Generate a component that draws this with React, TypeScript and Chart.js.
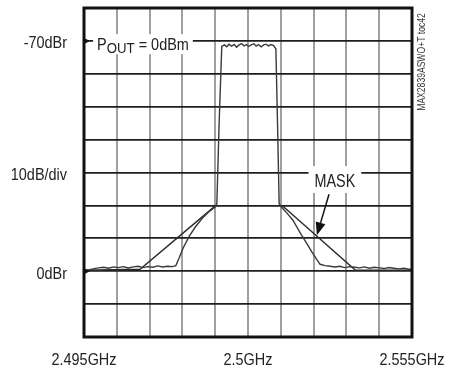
import React, { useEffect, useRef } from "react";
import { Chart, registerables } from "chart.js";

Chart.register(...registerables);

const FONT = '"Liberation Sans", Arial, sans-serif';

// x in divisions (0..10), y in dB relative (0 = 0dBr line)
const signalX = [
  0.0, 0.15, 0.3, 0.45, 0.6, 0.75, 0.9, 1.05, 1.2, 1.35, 1.5, 1.65, 1.8, 1.95, 2.1, 2.25, 2.4, 2.55, 2.7, 2.8,
  2.9, 3.02, 3.2, 3.4, 3.6, 3.8, 4.0, 4.05, 4.12, 4.2,
  4.28, 4.35, 4.42, 4.5, 4.58, 4.65, 4.72, 4.8, 4.88, 4.95, 5.02, 5.1, 5.18, 5.25, 5.32, 5.4, 5.48, 5.55, 5.62, 5.7, 5.78, 5.85,
  5.9, 5.95, 6.02, 6.2, 6.37, 6.6, 6.8, 6.95, 7.1, 7.2, 7.35, 7.5,
  7.65, 7.8, 7.95, 8.1, 8.25, 8.4, 8.55, 8.7, 8.85, 9.0, 9.15, 9.3, 9.45, 9.6, 9.75, 9.9, 10.0,
];
const signalY = [
  0.3, 0.4, 0.8, 1.0, 1.2, 0.9, 1.3, 1.1, 1.4, 1.0, 1.3, 1.5, 1.1, 1.4, 1.2, 1.6, 1.3, 1.5, 1.4, 1.7,
  4.0, 7.0, 10.5, 13.5, 16.0, 18.0, 19.5, 20.5, 45, 68.3,
  68.8, 68.2, 69.0, 68.4, 68.9, 68.1, 68.7, 69.2, 68.5, 68.9, 68.3, 68.8, 69.1, 68.4, 68.9, 68.2, 68.8, 69.0, 68.5, 68.9, 68.6, 67.6,
  45, 20.5, 19.5, 17.5, 15.5, 11.5, 8.3, 5.8, 3.5, 2.1, 1.7, 1.5,
  1.3, 1.5, 1.1, 1.4, 1.2, 1.0, 1.3, 0.9, 1.2, 1.0, 0.8, 1.1, 0.9, 0.7, 0.9, 0.6, 0.6,
];

const maskX = [0, 1.71, 4.02, 5.0, 6.04, 8.26, 10];
const maskY: (number | null)[] = [0.3, 0.6, 20, null, 20, 0.4, 0.3];

const xTickValues = [0, 5, 10];
const xTickLabels = ["2.495GHz", "2.5GHz", "2.555GHz"];
const yTickValues = [70, 30, 0];
const yTickLabels = ["-70dBr", "10dB/div", "0dBr"];

const markerLevels = [70, 0];
const poutPos = [0.4, 69];
const maskLabelPos = [7.65, 27.7];
const arrowTail = [7.47, 23.4];
const arrowTip = [7.1, 10.9];
const sideNote = "MAX2839ASWO+T toc42";

function drawText(
  ctx: CanvasRenderingContext2D,
  text: string,
  x: number,
  y: number,
  size: number,
  sx: number,
  align: "left" | "center" | "right"
) {
  ctx.save();
  ctx.font = `${size}px ${FONT}`;
  const w = ctx.measureText(text).width * sx;
  let left = x;
  if (align === "center") left = x - w / 2;
  if (align === "right") left = x - w;
  ctx.translate(left, y);
  ctx.scale(sx, 1);
  ctx.textAlign = "left";
  ctx.textBaseline = "alphabetic";
  ctx.fillText(text, 0, 0);
  ctx.restore();
  return w;
}

function textWidth(ctx: CanvasRenderingContext2D, text: string, size: number, sx: number) {
  ctx.save();
  ctx.font = `${size}px ${FONT}`;
  const w = ctx.measureText(text).width * sx;
  ctx.restore();
  return w;
}

const annotPlugin = {
  id: "annot",
  afterDatasetsDraw(chart: any) {
    const { ctx, chartArea: a, scales } = chart;
    const x = scales.x;
    const y = scales.y;
    ctx.save();

    // frame
    ctx.strokeStyle = "#111";
    ctx.lineWidth = 3;
    ctx.strokeRect(a.left, a.top, a.right - a.left, a.bottom - a.top);

    // reference markers
    ctx.fillStyle = "#111";
    for (const v of markerLevels) {
      const py = y.getPixelForValue(v);
      ctx.beginPath();
      ctx.moveTo(a.left, py - 3);
      ctx.lineTo(a.left + 6, py);
      ctx.lineTo(a.left, py + 3);
      ctx.closePath();
      ctx.fill();
    }

    ctx.fillStyle = "#222";
    // axis labels
    yTickValues.forEach((v, i) => {
      const py = y.getPixelForValue(v);
      drawText(ctx, yTickLabels[i], a.left - 17, py + 7.5, 17, 0.85, "right");
    });
    xTickValues.forEach((v, i) => {
      const px = x.getPixelForValue(v);
      drawText(ctx, xTickLabels[i], px, a.bottom + 28, 17, 0.85, "center");
    });

    // POUT label
    {
      const px = x.getPixelForValue(poutPos[0]);
      const py = y.getPixelForValue(poutPos[1]);
      const wP = textWidth(ctx, "P", 17, 0.85);
      const wSub = textWidth(ctx, "OUT", 15, 0.88);
      const wRest = textWidth(ctx, " = 0dBm", 17, 0.85);
      const total = wP + wSub + wRest;
      ctx.fillStyle = "#fff";
      ctx.fillRect(px - 4, py - 10, total + 8, 20);
      ctx.fillStyle = "#222";
      drawText(ctx, "P", px, py + 6, 17, 0.85, "left");
      drawText(ctx, "OUT", px + wP, py + 9, 15, 0.88, "left");
      drawText(ctx, " = 0dBm", px + wP + wSub, py + 6, 17, 0.85, "left");
    }

    // MASK label
    {
      const px = x.getPixelForValue(maskLabelPos[0]);
      const py = y.getPixelForValue(maskLabelPos[1]);
      const w = textWidth(ctx, "MASK", 18, 0.8);
      ctx.fillStyle = "#fff";
      ctx.fillRect(px - w / 2 - 6, py - 14, w + 12, 27);
      ctx.fillStyle = "#222";
      drawText(ctx, "MASK", px, py + 6.5, 18, 0.8, "center");
    }

    // arrow
    {
      const tx = x.getPixelForValue(arrowTail[0]);
      const ty = y.getPixelForValue(arrowTail[1]);
      const hx = x.getPixelForValue(arrowTip[0]);
      const hy = y.getPixelForValue(arrowTip[1]);
      const ang = Math.atan2(hy - ty, hx - tx);
      const len = 13;
      const hw = 5;
      const bx = hx - Math.cos(ang) * len;
      const by = hy - Math.sin(ang) * len;
      ctx.strokeStyle = "#111";
      ctx.lineWidth = 1.5;
      ctx.beginPath();
      ctx.moveTo(tx, ty);
      ctx.lineTo(bx, by);
      ctx.stroke();
      ctx.fillStyle = "#111";
      ctx.beginPath();
      ctx.moveTo(hx, hy);
      ctx.lineTo(bx + Math.sin(ang) * hw, by - Math.cos(ang) * hw);
      ctx.lineTo(bx - Math.sin(ang) * hw, by + Math.cos(ang) * hw);
      ctx.closePath();
      ctx.fill();
    }

    // rotated side note
    ctx.translate(a.right + 13, a.top + 54);
    ctx.rotate(-Math.PI / 2);
    ctx.fillStyle = "#333";
    drawText(ctx, sideNote, 0, 0, 11, 0.78, "center");

    ctx.restore();
  },
};

export default function App() {
  const ref = useRef<HTMLCanvasElement | null>(null);

  useEffect(() => {
    if (!ref.current) return;
    const chart = new Chart(ref.current, {
      type: "line",
      data: {
        datasets: [
          {
            label: "signal",
            data: signalX.map((v, i) => ({ x: v, y: signalY[i] })),
            borderColor: "#3a3a3a",
            borderWidth: 1.4,
            pointRadius: 0,
            tension: 0,
          },
          {
            label: "mask",
            data: maskX.map((v, i) => ({ x: v, y: maskY[i] })) as any,
            borderColor: "#2a2a2a",
            borderWidth: 1.4,
            pointRadius: 0,
            tension: 0,
            spanGaps: false,
          },
        ],
      },
      options: {
        animation: false,
        responsive: false,
        devicePixelRatio: 1,
        layout: { padding: { left: 0, right: 44, top: 8, bottom: 0 } },
        plugins: { legend: { display: false }, tooltip: { enabled: false } },
        scales: {
          x: {
            type: "linear",
            min: 0,
            max: 10,
            ticks: { stepSize: 1, display: false },
            grid: { color: "#a0a0a0", lineWidth: 2, drawTicks: false },
            border: { display: false },
            afterFit: (s: any) => {
              s.height = 33;
              s.paddingLeft = 0;
              s.paddingRight = 0;
            },
          },
          y: {
            type: "linear",
            min: -20,
            max: 80,
            ticks: { stepSize: 10, display: false },
            grid: { color: "#1e1e1e", lineWidth: 1.8, drawTicks: false },
            border: { display: false },
            afterFit: (s: any) => {
              s.width = 84;
              s.paddingTop = 0;
              s.paddingBottom = 0;
            },
          },
        },
      },
      plugins: [annotPlugin],
    });
    return () => chart.destroy();
  }, []);

  return (
    <div style={{ position: "fixed", left: 0, top: 0, width: 456, height: 370, background: "#fff" }}>
      <canvas ref={ref} width={456} height={370} style={{ width: 456, height: 370 }} />
    </div>
  );
}
